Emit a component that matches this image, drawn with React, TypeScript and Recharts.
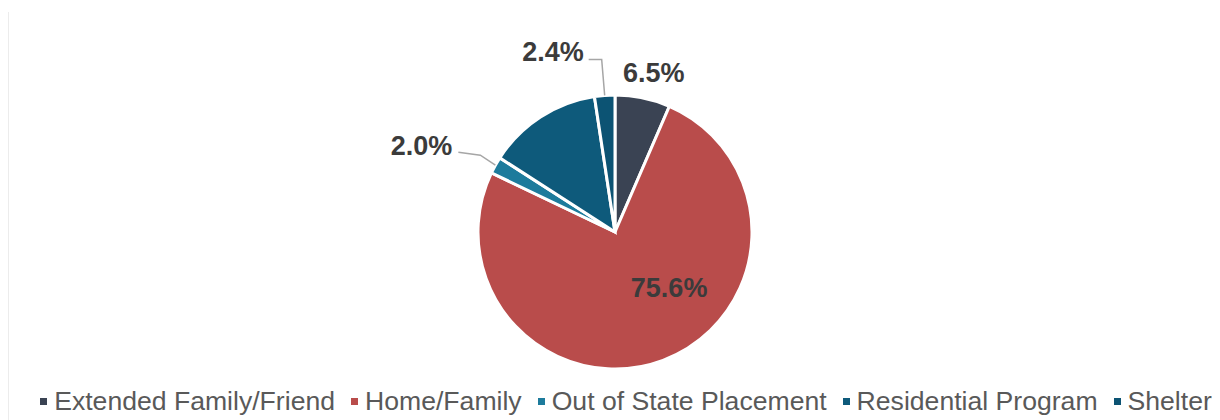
import React from 'react';
import { PieChart, Pie, Cell, Legend } from 'recharts';

const categories = ['Extended Family/Friend', 'Home/Family', 'Out of State Placement', 'Residential Program', 'Shelter'];
const shares = [6.5, 75.6, 2.0, 13.5, 2.4];
const showLabel = [true, true, true, false, true];
const colors = ['#3a4353', '#b94c4b', '#1d7b9c', '#0e5a7b', '#0c5373'];

const data = categories.map((name, i) => ({ name, value: shares[i] }));

const RAD = Math.PI / 180;
const LABEL_FONT = { fontFamily: 'Liberation Sans, Arial, sans-serif', fontWeight: 700, fontSize: 27, fill: '#3b3b3b' };

const renderLabel = (props: any) => {
  const { cx, cy, midAngle, outerRadius, index } = props;
  if (!showLabel[index]) return null;
  const text = `${shares[index].toFixed(1)}%`;
  const ex = cx + outerRadius * Math.cos(-midAngle * RAD);
  const ey = cy + outerRadius * Math.sin(-midAngle * RAD);
  if (index === 0) {
    const d = outerRadius + 24;
    const x = cx + d * Math.cos(-midAngle * RAD) + 6;
    const y = cy + d * Math.sin(-midAngle * RAD) - 1;
    return <text x={x} y={y} textAnchor="middle" dominantBaseline="central" style={LABEL_FONT}>{text}</text>;
  }
  if (index === 1) {
    const x = cx + outerRadius * 0.395;
    const y = cy + outerRadius * 0.41;
    return <text x={x} y={y} textAnchor="middle" dominantBaseline="central" style={LABEL_FONT}>{text}</text>;
  }
  if (index === 2) {
    const bx = ex - 15;
    const by = ey - 10;
    const lx = bx - 22;
    const ly = by - 3;
    return (
      <g>
        <polyline points={`${ex},${ey} ${bx},${by} ${lx},${ly}`} fill="none" stroke="#a6a6a6" strokeWidth={1.5} />
        <text x={lx - 6} y={ly - 6} textAnchor="end" dominantBaseline="central" style={LABEL_FONT}>{text}</text>
      </g>
    );
  }
  // shelter
  const bx = ex - 3;
  const by = ey - 36;
  const lx = bx - 13;
  const ly = by;
  return (
    <g>
      <polyline points={`${ex},${ey} ${bx},${by} ${lx},${ly}`} fill="none" stroke="#a6a6a6" strokeWidth={1.5} />
      <text x={lx - 5} y={ly - 7} textAnchor="end" dominantBaseline="central" style={LABEL_FONT}>{text}</text>
    </g>
  );
};

const renderLegend = () => (
  <div style={{ display: 'flex', justifyContent: 'center', alignItems: 'center', fontFamily: 'Liberation Sans, Arial, sans-serif', fontSize: 26.6, color: '#595959', whiteSpace: 'nowrap' }}>
    {categories.map((c, i) => (
      <div key={c} style={{ display: 'flex', alignItems: 'center', marginRight: i < categories.length - 1 ? 16 : 0 }}>
        <span style={{ display: 'inline-block', width: 7, height: 7, background: colors[i], marginRight: 7 }} />
        <span>{c}</span>
      </div>
    ))}
  </div>
);

export default function App() {
  return (
    <div style={{ position: 'relative', width: 1212, height: 412, background: '#fff' }}>
      <div style={{ position: 'absolute', left: 0, top: 4, width: 1, height: 408, background: '#ececec' }} />
      <PieChart width={1212} height={412}>
        <Pie
          data={data}
          dataKey="value"
          nameKey="name"
          cx={602}
          cy={219}
          outerRadius={137}
          startAngle={90}
          endAngle={-270}
          stroke="#ffffff"
          strokeWidth={3}
          label={renderLabel}
          labelLine={false}
          isAnimationActive={false}
        >
          {data.map((d, i) => (
            <Cell key={d.name} fill={colors[i]} />
          ))}
        </Pie>
        <Legend content={renderLegend} wrapperStyle={{ position: 'absolute', left: 25, top: 378, width: 1186, height: 36 }} />
      </PieChart>
    </div>
  );
}
